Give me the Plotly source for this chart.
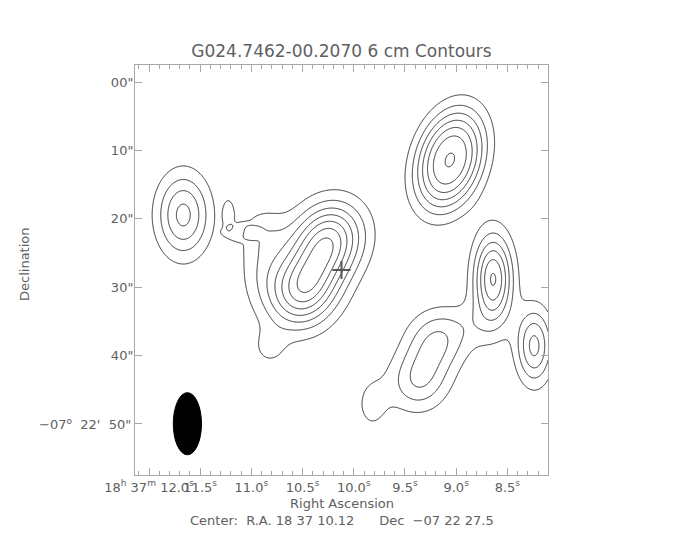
import numpy as np
import plotly.graph_objects as go

# ---- map definition ----
title_text = "G024.7462-00.2070 6 cm Contours"
center_ra_s = 10.12          # 18h 37m 10.12s
center_dec_off = 27.5        # -07 22 27.5  (arcsec below -07 22 00)
half_field = 30.0            # arcsec
cos_dec = np.cos(np.deg2rad(7 + 22.0 / 60 + 27.5 / 3600))

# emission components read from the map
# offsets in arcsec: x positive to the west (right), y positive to the south (down)
comp_name = ["left", "main_n", "main_s", "halo", "halo2", "bump", "band", "tail", "upper",
             "mid_right", "far_right", "low1", "low2", "low_tail", "bridge"]
comp_x   = [-22.98, -1.93, -5.56, -11.6, -11.2, -16.4, -14.57, -10.5, 15.74, 22.03, 28.0, 13.8, 11.2, 4.4, 18.8]
comp_y   = [-8.05, -4.29, 2.83, -0.73, -5.85, -8.05, -5.56, 11.4, -16.1, 1.32, 11.1, 10.4, 16.2, 19.7, 8.0]
comp_amp = [4.3, 6.3, 6.3, 1.3, 1.1, 1.06, 1.06, 1.15, 7.05, 6.1, 4.3, 2.9, 2.9, 1.3, 0.8]
comp_sx  = [2.65, 3.4, 3.4, 2.5, 2.5, 0.7, 2.2, 1.8, 3.3, 1.95, 1.8, 3.0, 3.0, 1.8, 3.0]
comp_sy  = [4.2, 4.0, 4.0, 4.0, 2.5, 1.8, 1.05, 2.0, 5.3, 4.5, 3.8, 3.2, 3.2, 3.0, 2.5]
comp_pa  = [0, 27, 27, 0, 0, 0, 0, 0, 17, 0, 0, 23, 23, 0, 0]
comp_q   = [1.0, 1.0, 1.0, 1.0, 1.0, 3.0, 3.0, 1.0, 1.25, 1.0, 1.0, 1.0, 1.0, 1.0, 1.0]

contour_levels = [1, 2, 3, 4, 5, 6, 7, 8]

# beam (arcsec)
beam_ra_s = 11.625
beam_dec_off = 50.0
beam_width = 4.1
beam_height = 9.1

# cross marker
cross_ra_s = [10.12]
cross_dec_off = [27.5]

# ticks
ra_tick_vals = [12.0, 11.5, 11.0, 10.5, 10.0, 9.5, 9.0, 8.5]
ra_tick_text = ["18<sup>h</sup> 37<sup>m</sup> 12.0<sup>s</sup>", "11.5<sup>s</sup>",
                "11.0<sup>s</sup>", "10.5<sup>s</sup>", "10.0<sup>s</sup>",
                "9.5<sup>s</sup>", "9.0<sup>s</sup>", "8.5<sup>s</sup>"]
dec_tick_vals = [0, 10, 20, 30, 40, 50]
dec_tick_text = ['00"', '10"', '20"', '30"', '40"', '']
dec_first_label = "\u221207<sup>o</sup>\u00a0 22'\u00a0 50\""

# ---- grid ----
ra_half = half_field / (15 * cos_dec)
ra_left = center_ra_s + ra_half
ra_right = center_ra_s - ra_half
ra = np.linspace(ra_left, ra_right, 300)
dec = np.linspace(center_dec_off - half_field, center_dec_off + half_field, 300)
RA, DEC = np.meshgrid(ra, dec)
X = (center_ra_s - RA) * 15 * cos_dec
Y = DEC - center_dec_off
Z = np.zeros_like(X)
for cx, cy, a, sx, sy, pa, q in zip(comp_x, comp_y, comp_amp, comp_sx, comp_sy, comp_pa, comp_q):
    t = np.deg2rad(pa)
    dx, dy = X - cx, Y - cy
    u = np.cos(t) * dx + np.sin(t) * dy
    v = -np.sin(t) * dx + np.cos(t) * dy
    r2 = (u / sx) ** 2 / 2 + (v / sy) ** 2 / 2
    Z += a * np.exp(-r2 ** q)

text_color = "#606060"
frame_color = "#a8a8a8"
font_family = "DejaVu Sans, Verdana, sans-serif"

fig = go.Figure()
fig.add_trace(go.Contour(
    x=ra, y=dec, z=Z,
    contours=dict(start=contour_levels[0], end=contour_levels[-1], size=1, coloring="lines"),
    colorscale=[[0, "#333333"], [1, "#333333"]],
    line=dict(width=1, smoothing=0.6),
    showscale=False, hoverinfo="skip",
))
fig.add_trace(go.Scatter(
    x=cross_ra_s, y=cross_dec_off, mode="markers",
    marker=dict(symbol="cross-thin", size=13, line=dict(width=2, color="#555555")),
    hoverinfo="skip", showlegend=False,
))

bw = beam_width / 2 / (15 * cos_dec)
fig.add_shape(type="circle", xref="x", yref="y",
              x0=beam_ra_s + bw, x1=beam_ra_s - bw,
              y0=beam_dec_off - beam_height / 2, y1=beam_dec_off + beam_height / 2,
              fillcolor="black", line=dict(color="black", width=1))

fig.update_layout(
    width=684, height=540,
    margin=dict(l=127, r=144, t=57, b=73),
    paper_bgcolor="white", plot_bgcolor="white",
    showlegend=False,
    font=dict(family=font_family, size=13, color=text_color),
    title=dict(text=title_text, xref="paper", x=0.5, xanchor="center",
               yref="container", y=0.920, yanchor="middle",
               font=dict(size=17, color=text_color)),
    xaxis=dict(
        range=[ra_left, ra_right], tickmode="array", tickvals=ra_tick_vals, ticktext=ra_tick_text,
        ticks="inside", ticklen=7, tickcolor=frame_color, tickangle=0,
        minor=dict(tick0=0, dtick=0.1, ticks="inside", ticklen=4, tickcolor=frame_color),
        showline=True, linecolor=frame_color, linewidth=1, mirror="ticks",
        showgrid=False, zeroline=False, ticklabelstandoff=0,
        tickfont=dict(size=13, color=text_color),
    ),
    yaxis=dict(
        range=[center_dec_off + half_field, center_dec_off - half_field],
        tickmode="array", tickvals=dec_tick_vals, ticktext=dec_tick_text,
        ticks="inside", ticklen=7, tickcolor=frame_color,
        showline=True, linecolor=frame_color, linewidth=1, mirror="ticks",
        showgrid=False, zeroline=False, ticklabelstandoff=-2,
        tickfont=dict(size=13, color=text_color),
    ),
    annotations=[
        dict(text=dec_first_label, xref="paper", yref="y", x=-0.006, y=dec_tick_vals[-1],
             showarrow=False, font=dict(size=13, color=text_color),
             xanchor="right", yanchor="middle"),
        dict(text="Declination", xref="paper", yref="paper", x=-0.266, y=0.515,
             textangle=-90, showarrow=False, font=dict(size=13, color=text_color),
             xanchor="center", yanchor="middle"),
        dict(text="Right Ascension", xref="paper", yref="paper", x=0.5, y=-0.0707,
             showarrow=False, font=dict(size=13, color=text_color),
             xanchor="center", yanchor="middle"),
        dict(text="Center:  R.A. 18 37 10.12      Dec  \u221207 22 27.5", xref="paper", yref="paper",
             x=0.5, y=-0.112, showarrow=False, font=dict(size=13, color=text_color),
             xanchor="center", yanchor="middle"),
    ],
)

fig.write_html("out.html")
